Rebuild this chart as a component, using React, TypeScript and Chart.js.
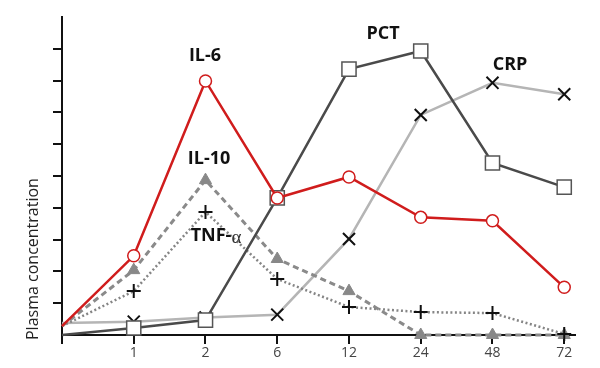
import React, { useEffect, useRef } from "react";
import { Chart, registerables } from "chart.js";

Chart.register(...registerables);

const xLabels = ["", "1", "2", "6", "12", "24", "48", "72"];
const xIndex = [0, 1, 2, 3, 4, 5, 6, 7];
const yTicks = [1, 2, 3, 4, 5, 6, 7, 8, 9];

const il6 = [0.28, 2.49, 7.99, 4.31, 4.97, 3.7, 3.59, 1.5];
const pct = [0, 0.22, 0.47, 4.31, 8.36, 8.93, 5.41, 4.65];
const crp = [0.38, 0.42, 0.55, 0.64, 3.02, 6.92, 7.93, 7.57];
const il10 = [0.28, 2.04, 4.87, 2.39, 1.38, 0, 0, 0];
const tnf = [0.28, 1.38, 3.87, 1.76, 0.88, 0.72, 0.69, 0.03];

const seriesLabels = [
  { text: "IL-6", x: 205, y: 56 },
  { text: "IL-10", x: 209, y: 159 },
  { text: "PCT", x: 383, y: 34 },
  { text: "CRP", x: 510, y: 65 },
];

const toPoints = (arr: number[]) => arr.map((v, i) => ({ x: xIndex[i], y: v }));
const radii = (r: number) => xIndex.map((i) => (i === 0 ? 0 : r));

export default function App() {
  const ref = useRef<HTMLCanvasElement>(null);
  useEffect(() => {
    document.body.style.margin = "0";
    if (!ref.current) return;
    const labelPlugin = {
      id: "seriesLabels",
      afterDatasetsDraw(chart: any) {
        const ctx = chart.ctx;
        ctx.save();
        ctx.fillStyle = "#111";
        ctx.textAlign = "center";
        ctx.textBaseline = "middle";
        ctx.font = "bold 18px 'Open Sans'";
        seriesLabels.forEach((l) => ctx.fillText(l.text, l.x, l.y));
        // TNF-α
        const a = "TNF-";
        const b = "α";
        ctx.font = "bold 18px 'Open Sans'";
        const wa = ctx.measureText(a).width;
        ctx.font = "19px 'Liberation Serif'";
        const wb = ctx.measureText(b).width;
        const start = 216 - (wa + wb) / 2;
        ctx.textAlign = "left";
        ctx.font = "bold 18px 'Open Sans'";
        ctx.fillText(a, start, 236);
        ctx.font = "19px 'Liberation Serif'";
        ctx.fillStyle = "#333";
        ctx.fillText(b, start + wa, 238);
        // y title
        ctx.fillStyle = "#222";
        ctx.font = "16px 'Open Sans'";
        ctx.translate(33, 340);
        ctx.rotate(-Math.PI / 2);
        ctx.textAlign = "left";
        ctx.textBaseline = "middle";
        ctx.fillText("Plasma concentration", 0, 0);
        ctx.restore();
      },
    };
    const chart = new Chart(ref.current, {
      type: "line",
      data: {
        datasets: [
          {
            label: "IL-6",
            data: toPoints(il6),
            borderColor: "#d01c1c",
            borderWidth: 2.5,
            pointStyle: "circle",
            pointRadius: radii(6),
            pointBackgroundColor: "#fff",
            pointBorderColor: "#d01c1c",
            pointBorderWidth: 1.5,
            clip: false,
          } as any,
          {
            label: "PCT",
            data: toPoints(pct),
            borderColor: "#4a4a4a",
            borderWidth: 2.5,
            pointStyle: "rect",
            pointRadius: radii(10),
            pointBackgroundColor: "#fff",
            pointBorderColor: "#555",
            pointBorderWidth: 1.5,
            clip: false,
          },
          {
            label: "TNF-α",
            data: toPoints(tnf),
            borderColor: "#858585",
            borderWidth: 2.5,
            borderDash: [2, 2.5],
            pointStyle: "cross",
            pointRadius: radii(7),
            pointBorderColor: "#111",
            pointBorderWidth: 2,
            clip: false,
          },
          {
            label: "IL-10",
            data: toPoints(il10),
            borderColor: "#8a8a8a",
            borderWidth: 3,
            borderDash: [6, 4],
            pointStyle: "triangle",
            pointRadius: radii(7),
            pointBackgroundColor: "#888",
            pointBorderColor: "#888",
            pointBorderWidth: 1,
            clip: false,
          },
          {
            label: "CRP",
            data: toPoints(crp),
            borderColor: "#b5b5b5",
            borderWidth: 2.5,
            pointStyle: "crossRot",
            pointRadius: radii(8.5),
            pointBorderColor: "#111",
            pointBorderWidth: 2,
            clip: false,
          },
        ],
      },
      options: {
        animation: false,
        responsive: false,
        maintainAspectRatio: false,
        layout: { padding: { top: 17, right: 25, left: 0, bottom: 0 } },
        plugins: { legend: { display: false }, tooltip: { enabled: false } },
        scales: {
          x: {
            type: "linear",
            min: 0,
            max: 7.15,
            afterBuildTicks: (s: any) => {
              s.ticks = xIndex.map((v) => ({ value: v }));
            },
            afterFit: (s: any) => {
              s.height = 33;
            },
            grid: {
              drawOnChartArea: false,
              drawTicks: true,
              tickLength: 9,
              color: "#111",
              lineWidth: 2,
            },
            border: { display: true, color: "#111", width: 2 },
            ticks: {
              callback: (v: any) => xLabels[v as number] ?? "",
              font: { family: "'Open Sans'", size: 14 },
              color: "#444",
              padding: 1,
              maxRotation: 0,
              autoSkip: false,
            },
          },
          y: {
            min: 0,
            max: 10,
            afterBuildTicks: (s: any) => {
              s.ticks = yTicks.map((v) => ({ value: v }));
            },
            afterFit: (s: any) => {
              s.width = 62;
            },
            grid: {
              drawOnChartArea: false,
              drawTicks: true,
              tickLength: 9,
              color: "#111",
              lineWidth: 2,
            },
            border: { display: true, color: "#111", width: 2 },
            ticks: { display: false },
          },
        },
      },
      plugins: [labelPlugin],
    });
    return () => chart.destroy();
  }, []);
  return (
    <div style={{ width: 600, height: 368 }}>
      <canvas ref={ref} width={600} height={368} style={{ display: "block" }} />
    </div>
  );
}
